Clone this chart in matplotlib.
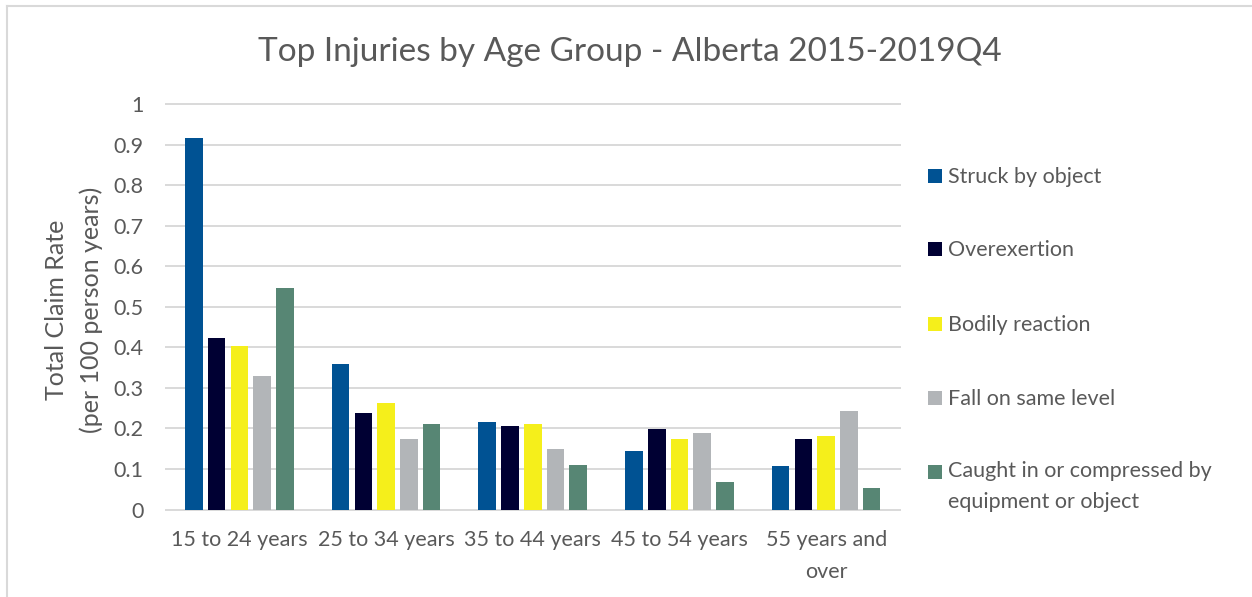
import matplotlib
matplotlib.use("Agg")
import matplotlib.pyplot as plt
import numpy as np
from matplotlib.lines import Line2D
from matplotlib.patches import Rectangle

categories = ["15 to 24 years", "25 to 34 years", "35 to 44 years", "45 to 54 years", "55 years and\nover"]
series_names = ["Struck by object", "Overexertion", "Bodily reaction", "Fall on same level",
                "Caught in or compressed by\nequipment or object"]
struck = [0.915, 0.358, 0.215, 0.144, 0.107]
overexertion = [0.422, 0.239, 0.205, 0.199, 0.174]
bodily = [0.402, 0.262, 0.211, 0.175, 0.181]
fall = [0.329, 0.174, 0.150, 0.189, 0.243]
caught = [0.547, 0.212, 0.109, 0.067, 0.053]
yticks = [0, 0.1, 0.2, 0.3, 0.4, 0.5, 0.6, 0.7, 0.8, 0.9, 1]
ytick_labels = ["0", "0.1", "0.2", "0.3", "0.4", "0.5", "0.6", "0.7", "0.8", "0.9", "1"]

colors = ["#005293", "#000033", "#F5EF1B", "#B2B5B8", "#578674"]
values = [struck, overexertion, bodily, fall, caught]

FONT = "Lato"
TXT = "#595959"
FS = 15.5
LS = 1.7
plt.rcParams['font.family'] = [FONT, 'DejaVu Sans']

W, H = 1252, 597
fig = plt.figure(figsize=(W / 100, H / 100), dpi=100)
fig.patch.set_facecolor("white")

def fx(px):
    return px / W

def fy(py):
    return 1 - py / H

ax = fig.add_axes([fx(166), fy(509.5), fx(899.5) - fx(166), fy(104) - fy(509.5)])
x = np.arange(len(categories))
pitch = 0.155
width = 0.12
for j, (vals, c) in enumerate(zip(values, colors)):
    ax.bar(x + (j - 2) * pitch, vals, width=width, color=c, linewidth=0, zorder=3)

ax.set_xlim(-0.5, len(categories) - 0.5)
ax.set_ylim(0, 1)
ax.set_yticks(yticks)
ax.set_yticklabels(ytick_labels)
ax.set_xticks(x)
ax.set_xticklabels(categories, linespacing=LS)
for s in ax.spines.values():
    s.set_visible(False)
ax.yaxis.grid(True, color="#D9D9D9", linewidth=1.4, zorder=0)
ax.set_axisbelow(True)
ax.tick_params(axis="both", length=0, labelsize=FS, labelcolor=TXT)
ax.tick_params(axis="y", pad=16)
ax.tick_params(axis="x", pad=15)
for gl in ax.get_ygridlines():
    gl.set_clip_on(False)

# Title
fig.text(fx(630), fy(61), "Top Injuries by Age Group - Alberta 2015-2019Q4", ha="center",
         va="baseline", fontsize=24, color=TXT)

# Y label
fig.text(fx(74), fy(310), "Total Claim Rate\n(per 100 person years)", rotation=90, ha="center",
         va="center", fontsize=18, color=TXT, linespacing=1.55)

# Legend
baselines = [183, 256.5, 331, 405, 478.5]
for name, c, b in zip(series_names, colors, baselines):
    fig.patches.append(Rectangle((fx(928), fy(b)), fx(14), 14 / H, transform=fig.transFigure,
                                 facecolor=c, edgecolor="none"))
    nlines = name.count("\n")
    fig.text(fx(948), fy(b + 30 * nlines), name, ha="left", va="baseline", fontsize=FS,
             color=TXT, linespacing=LS)

# Chart border (left and top visible)
fig.add_artist(Line2D([fx(7), fx(7)], [fy(6), 0], transform=fig.transFigure, color="#D9D9D9", lw=1.5))
fig.add_artist(Line2D([fx(7), 1], [fy(6), fy(6)], transform=fig.transFigure, color="#D9D9D9", lw=1.5))

fig.savefig("out.png", dpi=100, facecolor="white")
